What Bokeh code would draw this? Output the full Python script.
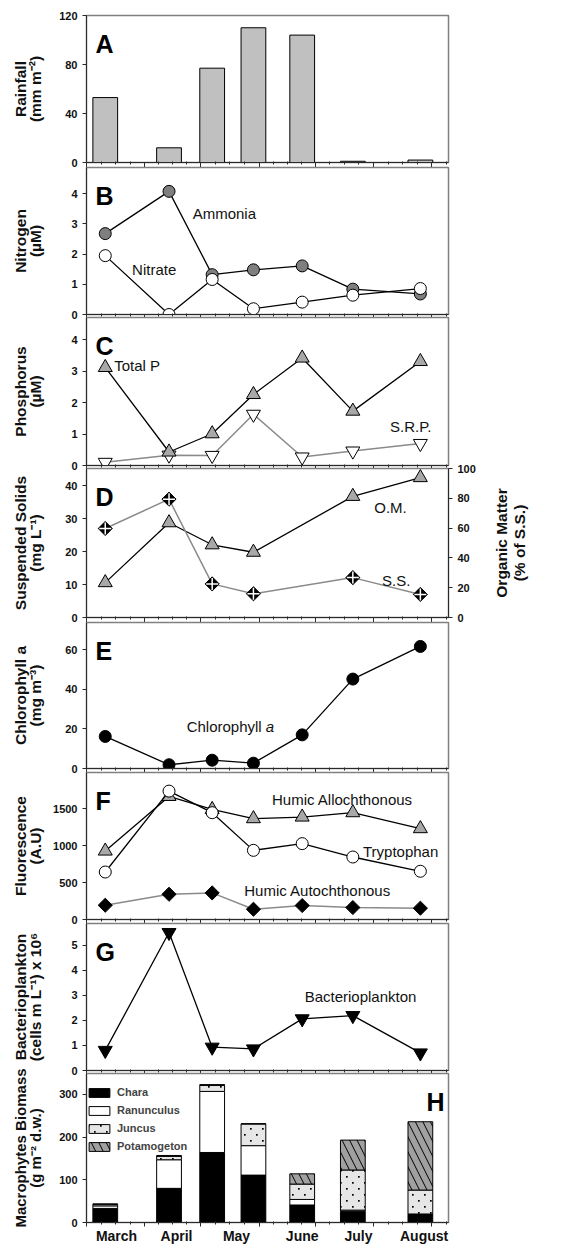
import math
import base64
import datetime as dt
from bokeh.plotting import figure
from bokeh.models import (Range1d, LinearAxis, FixedTicker, SingleIntervalTicker,
                          Label, ColumnDataSource, ImageURLTexture)
from bokeh.core.properties import value
from bokeh.layouts import column, row
from bokeh.embed import file_html
from bokeh.resources import INLINE

# ---------------- data ----------------
months = ["March", "April", "May", "June", "July", "August"]
sample_dates = ["03-11", "04-14", "05-07", "05-29", "06-24", "07-21", "08-26"]

rainfall = [53, 12, 77, 110, 104, 1, 2]                      # mm m-2
ammonia = [2.68, 4.08, 1.32, 1.48, 1.61, 0.84, 0.68]         # uM
nitrate = [1.95, 0.0, 1.16, 0.19, 0.41, 0.64, 0.86]          # uM
total_p = [3.12, 0.43, 1.01, 2.26, 3.42, 1.73, 3.31]         # uM
srp = [0.10, 0.33, 0.32, 1.63, 0.27, 0.46, 0.70]             # uM
susp_solids = [27.0, 35.9, 10.2, 7.2, None, 12.1, 7.0]       # mg L-1
organic_matter = [23.4, 63.6, 48.8, 43.8, None, 81.3, 93.9]  # % of S.S.
chlorophyll = [16.2, 1.9, 4.2, 2.7, 17.0, 45.2, 61.7]        # mg m-3
humic_allo = [927, 1666, 1490, 1365, 1387, 1446, 1230]       # A.U.
tryptophan = [643, 1738, 1446, 936, 1027, 846, 653]
humic_auto = [193, 342, 360, 139, 189, 162, 153]
bacterio = [0.80, 5.50, 0.93, 0.86, 2.06, 2.19, 0.70]        # x 10^6
chara = [33, 80, 164, 111, 41, 26, 20]                       # g m-2 d.w.
ranunculus = [6, 67, 143, 69, 13, 3, 0]
juncus = [4, 8, 14, 51, 36, 94, 56]
potamogeton = [0, 2, 2, 0, 24, 70, 160]
species = ["Chara", "Ranunculus", "Juncus", "Potamogeton"]

# ---------------- helpers ----------------
FONT = "Liberation Sans"
AXIS_C = "#2a2a2a"
OUTLINE_C = "#808080"
GRAY_LINE = "#8a8a8a"
TXT_C = "#111111"


def season_day(md):
    m, d = map(int, md.split("-"))
    return (dt.date(2009, m, d) - dt.date(2009, 3, 1)).days


x = [season_day(s) for s in sample_dates]
month_starts = [season_day(f"{m:02d}-01") for m in range(3, 10)]
minor_ticks = []
for a, b in zip(month_starts[:-1], month_starts[1:]):
    minor_ticks += [a + (b - a) * k / 4 for k in (1, 2, 3)]
minor_ticks.append(month_starts[-1] + 7.75)
month_label_days = [16, 48, 80, 115, 145, 180]
X_END = 193
BAR_W = 13.2

LEFT, FRAME_W, RIGHT = 75, 365, 112
TOTAL_W = LEFT + FRAME_W + RIGHT
PAD = 7          # top / bottom border of each panel (overlapped with neighbours)
FRAME_H = {}


def gap_margin(gap, top=PAD):
    return (-(PAD + top - gap), 0, 0, 0)


def make_fig(frame_h, y_end, gap=None, top=PAD, bottom=PAD, right=RIGHT):
    margin = None if gap is None else gap_margin(gap, top)
    p = figure(width=LEFT + FRAME_W + right, height=top + frame_h + bottom,
               x_range=Range1d(0, X_END), y_range=Range1d(0, y_end),
               output_backend="svg", toolbar_location=None,
               x_axis_location=None, y_axis_location="left",
               min_border_left=LEFT, min_border_right=right,
               min_border_top=top, min_border_bottom=bottom, margin=margin)
    p.xgrid.visible = False
    p.ygrid.visible = False
    p.outline_line_color = OUTLINE_C
    p.outline_line_width = 1.5
    p.background_fill_color = "white"
    p.border_fill_color = None
    FRAME_H[p.id] = frame_h
    return p


def tick_axis(p, out):
    ax = LinearAxis(ticker=FixedTicker(ticks=month_starts, minor_ticks=minor_ticks))
    ax.major_label_text_font_size = "1px"
    ax.major_label_text_color = None
    ax.major_label_standoff = 0
    ax.major_tick_out = out
    ax.major_tick_in = 0
    ax.minor_tick_out = min(2, out)
    ax.minor_tick_in = 1
    ax.axis_line_color = AXIS_C
    ax.major_tick_line_color = AXIS_C
    ax.minor_tick_line_color = AXIS_C
    p.add_layout(ax, "below")
    return ax


def style_y(ax, interval, label, max_digits, size="15.5px"):
    ax.ticker = SingleIntervalTicker(interval=interval, num_minor_ticks=0)
    ax.axis_label = label
    ax.major_tick_out = 4
    ax.major_tick_in = 0
    ax.minor_tick_out = 0
    ax.minor_tick_in = 0
    ax.axis_line_color = AXIS_C
    ax.major_tick_line_color = AXIS_C
    ax.major_label_text_font = FONT
    ax.major_label_text_font_style = "bold"
    ax.major_label_text_font_size = "11px"
    ax.major_label_text_color = TXT_C
    ax.major_label_standoff = 5
    if label:
        ax.axis_label_text_font = FONT
        ax.axis_label_text_font_style = "bold"
        ax.axis_label_text_font_size = size
        ax.axis_label_text_color = TXT_C
        ax.axis_label_text_line_height = 0.9
        ax.axis_label_standoff = int(round(30.5 - max_digits * 6.1))


def letter(p, txt, right=False):
    fh = FRAME_H[p.id]
    p.add_layout(Label(x=(FRAME_W - 7) if right else 9, y=fh - 28,
                       x_units="screen", y_units="screen",
                       text=txt, text_font=FONT, text_font_style="bold", text_font_size="25px",
                       text_color="black", text_align="right" if right else "left",
                       text_baseline="alphabetic"))


def note(p, xx, yy, txt, **kw):
    opts = dict(text_font=FONT, text_font_size="15px", text_color=TXT_C,
                text_align="left", text_baseline="middle")
    opts.update(kw)
    p.add_layout(Label(x=xx, y=yy, text=txt, **opts))


def series(p, xs, ys, marker, fill, size, line_color="black", lw=1.3, angle=0.0,
           y_range_name="default"):
    xs2 = [a for a, b in zip(xs, ys) if b is not None]
    ys2 = [b for b in ys if b is not None]
    p.line(xs2, ys2, line_color=line_color, line_width=lw, y_range_name=y_range_name)
    p.scatter(xs2, ys2, marker=marker, size=size, fill_color=fill, line_color="black",
              line_width=1, angle=angle, y_range_name=y_range_name)
    return xs2, ys2


# ---------------- A: rainfall ----------------
pA = make_fig(147, 120, top=15)
tick_axis(pA, 5)
pA.vbar(x=x, top=rainfall, width=BAR_W, fill_color="#c0c0c0", line_color="black", line_width=1)
style_y(pA.yaxis[0], 40, "Rainfall\n(mm m⁻²)", 3)
letter(pA, "A")

# ---------------- B: nitrogen ----------------
pB = make_fig(147, 4.87, gap=5)
tick_axis(pB, 3)
series(pB, x, ammonia, "circle", "#7f7f7f", 12)
series(pB, x, nitrate, "circle", "white", 12)
style_y(pB.yaxis[0], 1, "Nitrogen\n(µM)", 1)
letter(pB, "B")
note(pB, 56.6, 3.34, "Ammonia")
note(pB, 24.3, 1.49, "Nitrate")

# ---------------- C: phosphorus ----------------
pC = make_fig(148, 4.71, gap=3)
tick_axis(pC, 3)
series(pC, x, srp, "inverted_triangle", "white", 14, line_color=GRAY_LINE, lw=1.5)
series(pC, x, total_p, "triangle", "#a8a8a8", 14)
style_y(pC.yaxis[0], 1, "Phosphorus\n(µM)", 1)
letter(pC, "C")
note(pC, 14.8, 3.18, "Total P")
note(pC, 161.8, 1.23, "S.R.P.")

# ---------------- D: suspended solids / organic matter ----------------
RD = 40
pD = make_fig(149, 45.2, right=RD)
tick_axis(pD, 5)
pD.extra_y_ranges = {"om": Range1d(0, 100)}
axR = LinearAxis(y_range_name="om")
pD.add_layout(axR, "right")
style_y(axR, 20, None, 3)
series(pD, x, organic_matter, "triangle", "#a8a8a8", 14, y_range_name="om")
xs_ss, ys_ss = series(pD, x, susp_solids, "square", "black", 10, line_color=GRAY_LINE, lw=1.5,
                      angle=math.pi / 4)
pD.scatter(xs_ss, ys_ss, marker="cross", size=12, line_color="white", line_width=1.5)
style_y(pD.yaxis[0], 10, "Suspended Solids\n(mg L⁻¹)", 2)
letter(pD, "D")
note(pD, 153.4, 33.5, "O.M.")
note(pD, 157.6, 11.2, "S.S.")

# right-hand axis title of D, in its own narrow strip so it reads bottom-to-top
pDlab = figure(width=TOTAL_W - (LEFT + FRAME_W + RD), height=PAD + 149 + PAD,
               x_range=Range1d(0, 1), y_range=Range1d(0, 1),
               output_backend="svg", toolbar_location=None,
               x_axis_location=None, y_axis_location=None,
               min_border_left=0, min_border_right=0, min_border_top=PAD, min_border_bottom=PAD)
pDlab.xgrid.visible = False
pDlab.ygrid.visible = False
pDlab.outline_line_color = None
pDlab.background_fill_color = None
pDlab.border_fill_color = None
for sx, txt in ((13, "Organic Matter"), (31, "(% of S.S.)")):
    pDlab.add_layout(Label(x=sx, y=149 / 2, x_units="screen", y_units="screen",
                           text=txt, angle=math.pi / 2, text_font=FONT, text_font_style="bold",
                           text_font_size="15.5px", text_color=TXT_C,
                           text_align="center", text_baseline="middle"))
rowD = row(pD, pDlab, spacing=0, margin=gap_margin(3))

# ---------------- E: chlorophyll ----------------
pE = make_fig(146, 73.8, gap=5)
tick_axis(pE, 4)
series(pE, x, chlorophyll, "circle", "black", 12)
style_y(pE.yaxis[0], 20, "Chlorophyll a\n(mg m⁻³)", 2)
letter(pE, "E")
note(pE, 53.4, 21.1, "Chlorophyll")
note(pE, 53.4, 21.1, "a", x_offset=79, text_font_style="italic")

# ---------------- F: fluorescence ----------------
pF = make_fig(147, 1990, gap=4)
tick_axis(pF, 4)
series(pF, x, humic_auto, "square", "black", 10, line_color=GRAY_LINE, lw=1.5, angle=math.pi / 4)
series(pF, x, humic_allo, "triangle", "#a8a8a8", 14)
series(pF, x, tryptophan, "circle", "white", 12)
style_y(pF.yaxis[0], 500, "Fluorescence\n(A.U)", 4)
letter(pF, "F")
note(pF, 98.9, 1626, "Humic Allochthonous")
note(pF, 147.4, 927, "Tryptophan")
note(pF, 84.1, 396, "Humic Autochthonous")

# ---------------- G: bacterioplankton ----------------
pG = make_fig(147, 5.86, gap=4)
tick_axis(pG, 3)
series(pG, x, bacterio, "inverted_triangle", "black", 14)
style_y(pG.yaxis[0], 1, "Bacterioplankton\n(cells m L⁻¹) x 10⁶", 1)
letter(pG, "G")
note(pG, 116.3, 2.96, "Bacterioplankton")

# ---------------- H: macrophytes ----------------
H_FRAME = 149
pH = make_fig(H_FRAME, 349, gap=3, bottom=24)
tick_axis(pH, 4)
src = ColumnDataSource(dict(x=x, Chara=chara, Ranunculus=ranunculus, Juncus=juncus,
                            Potamogeton=potamogeton))
dot_svg = ("<svg xmlns='http://www.w3.org/2000/svg' width='12' height='12'>"
           "<rect width='12' height='12' fill='#e6e6e6'/>"
           "<rect x='2' y='2' width='1.7' height='1.7' fill='black'/>"
           "<rect x='8' y='8' width='1.7' height='1.7' fill='black'/></svg>")
sparse_dots = ImageURLTexture(
    url="data:image/svg+xml;base64," + base64.b64encode(dot_svg.encode()).decode(),
    repetition="repeat")
pH.vbar_stack(species, x="x", width=BAR_W, source=src,
              fill_color=["black", "white", "#e6e6e6", "#a0a0a0"],
              line_color="black", line_width=1,
              hatch_pattern=[value(" "), value(" "), value("sdots"), value("\\")],
              hatch_extra={"sdots": sparse_dots},
              hatch_color="black", hatch_scale=[10, 10, 12, 15], hatch_weight=[1, 1, 1, 1],
              legend_label=species)
leg = pH.legend[0]
leg.location = (0, 70)
leg.border_line_color = None
leg.background_fill_alpha = 0
leg.margin = 0
leg.padding = 7
leg.spacing = 6
leg.glyph_width = 26
leg.glyph_height = 11
leg.label_height = 11
leg.label_standoff = 5
leg.label_text_font = FONT
leg.label_text_font_style = "bold"
leg.label_text_font_size = "11px"
style_y(pH.yaxis[0], 100, "Macrophytes Biomass\n(g m⁻² d.w.)", 3, size="15px")
letter(pH, "H", right=True)
axM = LinearAxis(ticker=FixedTicker(ticks=month_label_days),
                 major_label_overrides={d: m for d, m in zip(month_label_days, months)})
axM.major_tick_out = 0
axM.major_tick_in = 0
axM.minor_tick_out = 0
axM.minor_tick_in = 0
axM.axis_line_color = None
axM.major_label_standoff = 1
axM.major_label_text_font = FONT
axM.major_label_text_font_style = "bold"
axM.major_label_text_font_size = "14px"
axM.major_label_text_color = TXT_C
pH.add_layout(axM, "below")

layout = column(pA, pB, pC, rowD, pE, pF, pG, pH, spacing=0, margin=(0, 0, 0, 8))
open("out.html", "w").write(file_html(layout, INLINE))
